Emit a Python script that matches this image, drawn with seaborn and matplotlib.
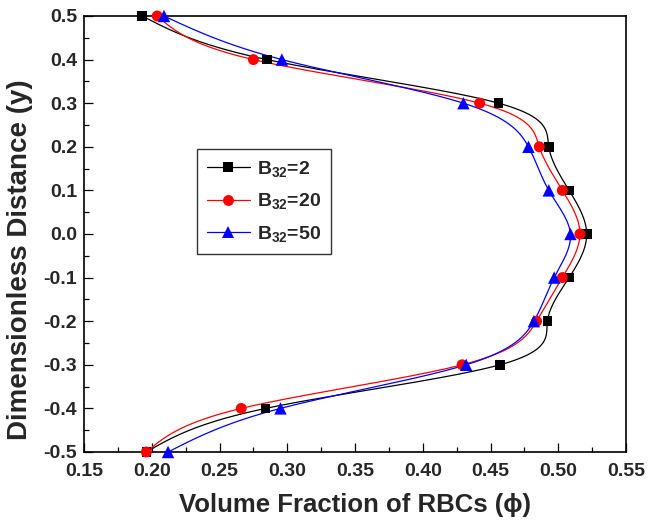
import numpy as np
import pandas as pd
import matplotlib
matplotlib.use("Agg")
import matplotlib.pyplot as plt
import seaborn as sns
from matplotlib.lines import Line2D
from matplotlib.ticker import MultipleLocator

# ---- data ----
y_pos = [0.5, 0.4, 0.3, 0.2, 0.1, 0.0, -0.1, -0.2, -0.3, -0.4, -0.5]
phi_b2 = [0.193, 0.285, 0.456, 0.493, 0.508, 0.521, 0.508, 0.492, 0.457, 0.284, 0.196]
phi_b20 = [0.204, 0.275, 0.442, 0.486, 0.503, 0.516, 0.503, 0.484, 0.429, 0.266, 0.196]
phi_b50 = [0.209, 0.296, 0.430, 0.478, 0.493, 0.509, 0.497, 0.482, 0.432, 0.295, 0.212]
series_labels = ["B$_{32}$=2", "B$_{32}$=20", "B$_{32}$=50"]
x_ticks = [0.15, 0.20, 0.25, 0.30, 0.35, 0.40, 0.45, 0.50, 0.55]
y_ticks = [-0.5, -0.4, -0.3, -0.2, -0.1, 0.0, 0.1, 0.2, 0.3, 0.4, 0.5]
x_label = "Volume Fraction of RBCs (\u03d5)"
y_label = "Dimensionless Distance (y)"

sns.set_theme(style="white")
plt.rcParams["font.family"] = ["Liberation Sans", "DejaVu Sans"]
plt.rcParams["font.weight"] = "bold"
plt.rcParams["mathtext.fontset"] = "custom"
plt.rcParams["mathtext.rm"] = "Liberation Sans:bold"
plt.rcParams["mathtext.bf"] = "Liberation Sans:bold"
plt.rcParams["mathtext.it"] = "Liberation Sans:bold"
plt.rcParams["mathtext.default"] = "rm"


def natural_spline(t, v, tt):
    t = np.asarray(t, float)
    v = np.asarray(v, float)
    n = len(t)
    h = np.diff(t)
    A = np.zeros((n, n))
    r = np.zeros(n)
    A[0, 0] = 1
    A[-1, -1] = 1
    for i in range(1, n - 1):
        A[i, i - 1] = h[i - 1]
        A[i, i] = 2 * (h[i - 1] + h[i])
        A[i, i + 1] = h[i]
        r[i] = 6 * ((v[i + 1] - v[i]) / h[i] - (v[i] - v[i - 1]) / h[i - 1])
    M = np.linalg.solve(A, r)
    idx = np.clip(np.searchsorted(t, tt) - 1, 0, n - 2)
    t0, t1 = t[idx], t[idx + 1]
    hh = t1 - t0
    a = (t1 - tt) / hh
    b = (tt - t0) / hh
    return (a * v[idx] + b * v[idx + 1]
            + ((a ** 3 - a) * M[idx] + (b ** 3 - b) * M[idx + 1]) * hh ** 2 / 6)


df = pd.DataFrame({"y": y_pos, "b2": phi_b2, "b20": phi_b20, "b50": phi_b50})

fig = plt.figure(figsize=(6.54, 5.26), dpi=100)
ax = fig.add_axes([0.1285, 0.1407, 0.8287, 0.8289])

styles = [("b2", "#000000", "s", 48), ("b20", "#ff0000", "o", 62), ("b50", "#0000ff", "^", 80)]
handles = []
yy = np.linspace(-0.5, 0.5, 400)
for (col, color, mk, s), lab in zip(styles, series_labels):
    d = df.sort_values("y")
    xx = natural_spline(d["y"].values, d[col].values, yy)
    sns.lineplot(x=xx, y=yy, sort=False, estimator=None, color=color, lw=0.9, ax=ax)
    sns.scatterplot(data=df, x=col, y="y", marker=mk, s=s, color=color,
                    edgecolor="none", linewidth=0, ax=ax, zorder=3, clip_on=False)
    ms = np.sqrt(s)
    handles.append(Line2D([], [], color=color, lw=0.9, marker=mk, markersize=ms,
                          markeredgewidth=0, label=lab))

ax.set_xlim(0.15, 0.55)
ax.set_ylim(-0.5, 0.5)
ax.set_xticks(x_ticks)
ax.set_yticks(y_ticks)
ax.set_xticklabels([f"{v:.2f}" for v in x_ticks])
ax.set_yticklabels([f"{v:.1f}" for v in y_ticks])
ax.xaxis.set_minor_locator(MultipleLocator(0.025))
ax.yaxis.set_minor_locator(MultipleLocator(0.05))
ax.tick_params(axis="both", which="major", direction="in", length=6.5, width=0.9,
               labelsize=14, color="black",
               bottom=True, left=True, top=False, right=False)
ax.tick_params(axis="x", which="major", pad=8)
ax.tick_params(axis="y", which="major", pad=5)
ax.tick_params(axis="both", which="minor", direction="in", length=3.5, width=0.9,
               color="black", bottom=True, left=True, top=False, right=False)
for lbl in ax.get_xticklabels() + ax.get_yticklabels():
    lbl.set_fontweight("bold")
for sp in ax.spines.values():
    sp.set_color("black")
    sp.set_linewidth(1.2)

ax.set_xlabel(x_label, fontsize=18.5, fontweight="bold", labelpad=9)
ax.set_ylabel(y_label, fontsize=20, fontweight="bold")
ax.yaxis.set_label_coords(-0.094, 0.44)

leg = ax.legend(handles=handles, loc="upper left", bbox_to_anchor=(0.2085, 0.695),
                borderaxespad=0, frameon=True, fancybox=False, fontsize=14,
                handlelength=2.2, handletextpad=0.4, labelspacing=0.65,
                borderpad=0.5)
leg.get_frame().set_edgecolor("black")
leg.get_frame().set_linewidth(1.0)
for t in leg.get_texts():
    t.set_fontweight("bold")

fig.savefig("out.png", dpi=100)
